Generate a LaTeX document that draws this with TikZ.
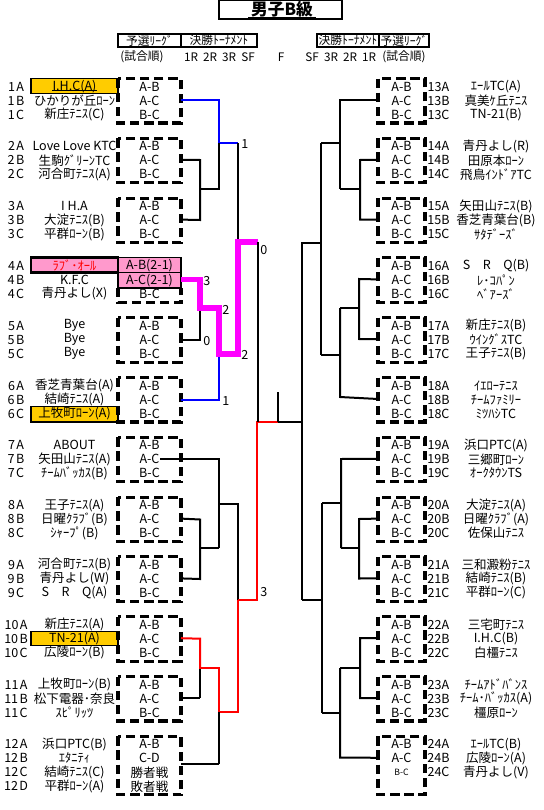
\documentclass[tikz,border=0pt]{standalone}
\usepackage{fontspec}
\setmainfont{Noto Sans CJK JP}
\definecolor{orng}{HTML}{FFCC00}
\definecolor{pnk}{HTML}{FF99CC}
\definecolor{mag}{HTML}{FF00FF}
\definecolor{blu}{HTML}{0000FF}
\definecolor{rd}{HTML}{FF0000}
\begin{document}
\begin{tikzpicture}[x=0.75pt,y=-0.75pt,
  every node/.style={font=\fontsize{9.4}{10}\selectfont, inner sep=0pt},
  hdr/.style={font=\fontsize{8.8}{10}\selectfont},
  dbox/.style={draw, line width=2.3pt, dash pattern=on 7pt off 3.6pt},
  br/.style={line width=1.5pt, line join=miter},
  tbr/.style={line width=0.8pt},
  num/.style={anchor=west},
  hibox/.style={draw, line width=1pt, fill=orng}]
\useasboundingbox (0,0) rectangle (543,810);
% title
\draw[line width=1pt] (219,0.5) rectangle (342,19);
\node (title) at (282,9) {\fontsize{12.5}{13}\selectfont\bfseries 男子B級};
\draw[line width=1.2pt] (248,17.5) -- (316,17.5);
% headers
\draw[line width=1pt] (118,34) rectangle (257,47) (181,34) -- (181,47);
\node[hdr] (hl1) at (149.5,40.5) {予選ﾘｰｸﾞ};
\node[hdr] (hl2) at (219,40.5) {決勝ﾄｰﾅﾒﾝﾄ};
\node[hdr] (hl3) at (142,57) {(試合順)};
\node[hdr] (h1R) at (191,57) {1R};
\node[hdr] (h2R) at (210,57) {2R};
\node[hdr] (h3R) at (229,57) {3R};
\node[hdr] (hSF) at (248,57) {SF};
\node[hdr] (hF) at (281,57) {F};
\draw[line width=1pt] (317,34) rectangle (429,47) (379,34) -- (379,47);
\node[hdr] (hr1) at (348,40.5) {決勝ﾄｰﾅﾒﾝﾄ};
\node[hdr] (hr2) at (404,40.5) {予選ﾘｰｸﾞ};
\node[hdr] (rSF) at (312,57) {SF};
\node[hdr] (r3R) at (331,57) {3R};
\node[hdr] (r2R) at (350,57) {2R};
\node[hdr] (r1R) at (369,57) {1R};
\node[hdr] (hr3) at (404,57) {(試合順)};
% highlight boxes
\draw[hibox] (31,78.5) rectangle (118,93.5);
\draw[hibox] (31,406.5) rectangle (118,422);
\draw[hibox] (31,631.7) rectangle (118,645.7);
\draw[line width=2.2pt, fill=pnk] (31,257.9) rectangle (118,272.9);
\draw[line width=0.8pt, fill=pnk] (118,257.9) rectangle (181,272.9);
\draw[line width=0.8pt, fill=pnk] (118,272.9) rectangle (181,288);
\draw[dbox] (118,288) -- (118,302.4) -- (181,302.4) -- (181,288);
\node[text=rd] (t4a) at (74.5,265.9) {ﾗﾌﾞ･ｵｰﾙ};
\node (m4a) at (149.5,265.4) {A-B(2-1)};
\node (m4b) at (149.5,280.4) {A-C(2-1)};
\node (m4c) at (149.5,294.4) {B-C};
\draw[line width=0.6pt] (52,90.5) -- (97,90.5);
% left groups
\foreach \g/\a/\b/\c in {1/{I.H.C(A)}/{ひかりが丘ﾛｰﾝ}/{新庄ﾃﾆｽ(C)},
  2/{Love Love KTC}/{生駒ｸﾞﾘｰﾝTC}/{河合町ﾃﾆｽ(A)},
  3/{I H.A}/{大淀ﾃﾆｽ(B)}/{平群ﾛｰﾝ(B)},
  4/{}/{K.F.C}/{青丹よし(X)},
  5/{Bye}/{Bye}/{Bye},
  6/{香芝青葉台(A)}/{結崎ﾃﾆｽ(A)}/{上牧町ﾛｰﾝ(A)},
  7/{ABOUT}/{矢田山ﾃﾆｽ(A)}/{ﾁｰﾑﾊﾞｯｶｽ(B)},
  8/{王子ﾃﾆｽ(A)}/{日曜ｸﾗﾌﾞ(B)}/{ｼｬｰﾌﾟ(B)},
  9/{河合町ﾃﾆｽ(B)}/{青丹よし(W)}/{S\quad R\quad Q(A)},
  10/{新庄ﾃﾆｽ(A)}/{TN-21(A)}/{広陵ﾛｰﾝ(B)},
  11/{上牧町ﾛｰﾝ(B)}/{松下電器･奈良}/{ｽﾋﾟﾘｯﾂ},
  12/{浜口PTC(B)}/{ｴﾀﾆﾃｨ}/{結崎ﾃﾆｽ(C)}}{
  \pgfmathsetmacro\ty{78.5+59.8*(\g-1)}
  \node (la\g) at (16,\ty+8) {\g\kern1pt A};
  \node (lb\g) at (16,\ty+22) {\g\kern1pt B};
  \node (lc\g) at (16,\ty+36) {\g\kern1pt C};
  \node (na\g) at (74.5,\ty+8) {\a};
  \node (nb\g) at (74.5,\ty+22) {\b};
  \node (nc\g) at (74.5,\ty+36) {\c};
  \coordinate (L\g) at (181,\ty+21.5);
}
\foreach \g in {1,2,3,5,6,7,8,9,10,11}{
  \pgfmathsetmacro\ty{78.5+59.8*(\g-1)}
  \draw[dbox] (118,\ty) rectangle (181,\ty+44.5);
  \node (ma\g) at (149.5,\ty+8) {A-B};
  \node (mb\g) at (149.5,\ty+22) {A-C};
  \node (mc\g) at (149.5,\ty+36) {B-C};
}
% group 12
\draw[dbox] (118,736.3) rectangle (181,794.8);
\node (ld12) at (16,786.3) {12\kern1pt D};
\node (nd12) at (74.5,786.3) {平群ﾛｰﾝ(A)};
\node (ma12) at (149.5,744.3) {A-B};
\node (mb12) at (149.5,758.3) {C-D};
\node (mc12) at (149.5,772.3) {勝者戦};
\node (md12) at (149.5,786.3) {敗者戦};
% right groups
\foreach \g/\a/\b/\c in {1/{ｴｰﾙTC(A)}/{真美ｹ丘ﾃﾆｽ}/{TN-21(B)},
  2/{青丹よし(R)}/{田原本ﾛｰﾝ}/{飛鳥ｲﾝﾄﾞｱTC},
  3/{矢田山ﾃﾆｽ(B)}/{香芝青葉台(B)}/{ｻﾀﾃﾞｰｽﾞ},
  4/{S\quad R\quad Q(B)}/{ﾚ･ｺﾊﾟﾝ}/{ﾍﾞｱｰｽﾞ},
  5/{新庄ﾃﾆｽ(B)}/{ｳｲﾝｸﾞｽTC}/{王子ﾃﾆｽ(B)},
  6/{ｲｴﾛｰﾃﾆｽ}/{ﾁｰﾑﾌｧﾐﾘｰ}/{ﾐﾂﾊｼTC},
  7/{浜口PTC(A)}/{三郷町ﾛｰﾝ}/{ｵｰｸﾀｳﾝTS},
  8/{大淀ﾃﾆｽ(A)}/{日曜ｸﾗﾌﾞ(A)}/{佐保山ﾃﾆｽ},
  9/{三和澱粉ﾃﾆｽ}/{結崎ﾃﾆｽ(B)}/{平群ﾛｰﾝ(C)},
  10/{三宅町ﾃﾆｽ}/{I.H.C(B)}/{白橿ﾃﾆｽ},
  11/{ﾁｰﾑｱﾄﾞﾊﾞﾝｽ}/{ﾁｰﾑ･ﾊﾞｯｶｽ(A)}/{橿原ﾛｰﾝ},
  12/{ｴｰﾙTC(B)}/{広陵ﾛｰﾝ(A)}/{青丹よし(V)}}{
  \pgfmathsetmacro\ty{78.5+59.8*(\g-1)}
  \pgfmathtruncatemacro\n{\g+12}
  \node (ra\n) at (438.5,\ty+8) {\n A};
  \node (rb\n) at (438.5,\ty+22) {\n B};
  \node (rc\n) at (438.5,\ty+36) {\n C};
  \node (sa\n) at (496,\ty+8) {\a};
  \node (sb\n) at (496,\ty+22) {\b};
  \node (sc\n) at (496,\ty+36) {\c};
  \node (pa\n) at (401.5,\ty+8) {A-B};
  \node (pb\n) at (401.5,\ty+22) {A-C};
  \coordinate (R\n) at (378,\ty+21.5);
}
\foreach \g in {1,...,11}{
  \pgfmathsetmacro\ty{78.5+59.8*(\g-1)}
  \pgfmathtruncatemacro\n{\g+12}
  \draw[dbox] (378,\ty) rectangle (425,\ty+44.5);
  \node (pc\n) at (401.5,\ty+36) {B-C};
}
\draw[dbox] (378,736.3) rectangle (425,794.8);
\node (pc24) at (401.5,772.3) {\fontsize{6.5}{7}\selectfont B-C};
% ---- left top half brackets
\draw[blu, tbr] (L1) -- ++(38,0) |- (238,143);
\draw[br] (L2) -- (200,160) -- (200,220) -- (L3);
\draw[br] (200,189) -- (219,189) -- (219,143);
\draw[br] (238,143) -- (238,242);
\draw[br] (181,340) -- (200,340) -- (200,308);
\draw[blu, br] (181,400) -- (219,400) -- (219,354);
\draw[mag, line width=3.8pt, line join=miter] (181,279.5) -- (200,279.5) -- (200,308) -- (219,308) -- (219,354) -- (238,354) -- (238,242) -- (258,242);
\node[num] (n1) at (241,144) {1};
\node[num] (n3) at (203,281) {3};
\node[num] (n2a) at (222,310) {2};
\node[num] (n0a) at (203,341) {0};
\node[num] (n2b) at (241,355) {2};
\node[num] (n1b) at (222,401) {1};
\node[num] (n0) at (260,250) {0};
\node[num] (n3b) at (260,592) {3};
% ---- left bottom half
\draw[br] (160,459) -- (219,459) -- (219,548);
\draw[br] (L8) -- (200,519.5) -- (200,579) -- (L9);
\draw[br] (200,548) -- (219,548);
\draw[br] (219,504) -- (238,504) -- (238,600);
\draw[rd, br] (238,600) -- (257,600) -- (257,422) -- (278,422);
\draw[rd, br] (L10) -- (200,638.7) -- (200,669);
\draw[rd, tbr] (200,668) -- (219,668) -- (219,712);
\draw[rd, br] (219,712) -- (238,712) -- (238,600);
\draw[tbr] (L11) -- (200,698);
\draw[br] (200,698) -- (200,669);
\draw[tbr] (181,764) -- (219,764);
\draw[br] (219,764) -- (219,712);
% ---- final
\draw[br] (258,242) -- (258,422);
\draw[br] (278,422) -- (302,422);
\draw[br] (278,392) -- (278,422);
\draw[br] (302,242) -- (302,600);
% ---- right brackets
\draw[br] (302,243) -- (321,243);
\draw[br] (321,143) -- (321,355);
\draw[br] (321,143) -- (340,143);
\draw[br] (R13) -- (340,100) -- (340,189);
\draw[tbr] (340,189) -- (360,189);
\draw[br] (R14) -- (360,160) -- (360,219.5) -- (R15);
\draw[br] (321,355) -- (340,355);
\draw[br] (340,308) -- (340,397) -- (R18);
\draw[br] (340,308) -- (359,308);
\draw[br] (R16) -- (359,279) -- (359,339) -- (R17);
\draw[br] (302,600) -- (322,600);
\draw[br] (322,503) -- (322,713);
\draw[br] (322,503) -- (341,503);
\draw[br] (R19) -- (341,459) -- (341,548);
\draw[br] (341,548) -- (359,548);
\draw[br] (R20) -- (359,519) -- (359,578.5) -- (R21);
\draw[br] (322,713) -- (340,713);
\draw[br] (340,668) -- (340,757.5) -- (R24);
\draw[br] (340,668) -- (360,668);
\draw[br] (R22) -- (360,638) -- (360,698) -- (R23);
\end{tikzpicture}
\end{document}
